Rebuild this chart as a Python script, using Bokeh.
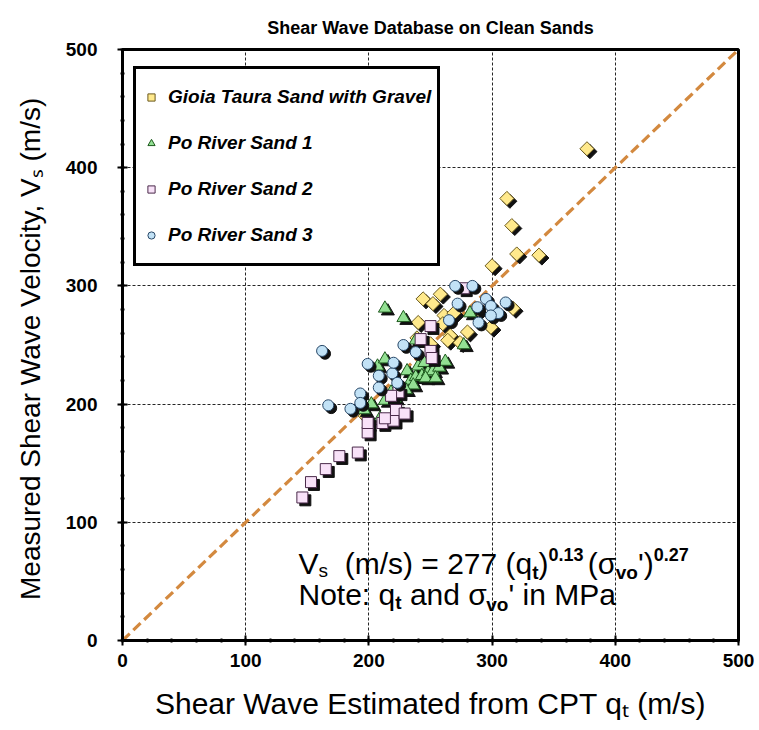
import math
from bokeh.plotting import figure
from bokeh.models import (ColumnDataSource, Range1d, SingleIntervalTicker, Label,
                          Legend, LegendItem)
from bokeh.transform import dodge
from bokeh.embed import file_html
from bokeh.resources import INLINE

# ---------------- data ----------------
title_text = "Shear Wave Database on Clean Sands"
x_title = "Shear Wave Estimated from CPT q\u209c (m/s)"
y_title = "Measured Shear Wave Velocity, V\u209b  (m/s)"
series_names = ["Gioia Taura Sand with Gravel", "Po River Sand 1",
                "Po River Sand 2", "Po River Sand 3"]

gioia_x = [377, 312, 316, 320, 338, 300, 317, 244, 258, 252, 261, 240, 260, 266,
           274, 280, 299, 288, 264, 250, 239, 197, 269]
gioia_y = [416, 374, 351, 327, 326, 317, 281, 289, 293, 285, 275, 269, 268, 258,
           252, 261, 265, 279, 254, 251, 256, 190, 277]

po1_x = [213, 228, 207, 213, 231, 234, 238, 240, 213, 209, 243, 248, 252, 257,
         236, 246, 282, 277, 238, 196, 202, 218, 225, 230, 245, 221, 254, 262]
po1_y = [281, 273, 232, 238, 228, 220, 223, 232, 203, 188, 224, 227, 228, 231,
         216, 222, 277, 250, 254, 195, 200, 210, 215, 212, 235, 205, 222, 236]

po2_x = [146, 153, 165, 176, 191, 199, 199, 211, 220, 224, 222, 213, 218, 250,
         242, 250, 251, 277, 229]
po2_y = [121, 134, 145, 156, 159, 176, 184, 184, 186, 210, 195, 188, 207, 266,
         255, 245, 239, 298, 192]

po3_x = [162, 167, 185, 193, 193, 199, 208, 208, 219, 220, 223, 228, 238, 270,
         284, 272, 295, 299, 311, 305, 288, 299, 289, 265]
po3_y = [245, 199, 196, 209, 201, 234, 224, 214, 226, 235, 218, 250, 244, 300,
         300, 285, 289, 283, 286, 277, 282, 275, 269, 271]

line_x = [0, 500]
line_y = [0, 500]
tick_interval = 100

# ---------------- layout helpers (pixel -> data) ----------------
FL, FR, FT, FB = 122, 738, 49, 640
W, H = 759, 730
sx = (FR - FL) / 500.0
sy = (FB - FT) / 500.0


def dx(px):
    return (px - FL) / sx


def dy(py):
    return (FB - py) / sy


FONT = "Liberation Sans"

p = figure(width=W, height=H, output_backend="svg", toolbar_location=None,
           x_range=Range1d(0, 500), y_range=Range1d(0, 500),
           min_border_left=FL, min_border_right=W - FR,
           min_border_top=FT, min_border_bottom=H - FB,
           background_fill_color="white", border_fill_color="white")

p.title.text = title_text
p.title.align = "center"
p.title.vertical_align = "top"
p.title.text_font = FONT
p.title.text_font_size = "18px"
p.title.text_font_style = "bold"
p.title.text_color = "black"
p.title.standoff = 20

p.outline_line_color = "black"
p.outline_line_width = 3
p.outline_line_alpha = 1

for ax in (p.xaxis[0], p.yaxis[0]):
    ax.ticker = SingleIntervalTicker(interval=tick_interval, num_minor_ticks=5)
    ax.axis_line_width = 3
    ax.axis_line_color = "black"
    ax.major_tick_in = 5
    ax.major_tick_out = 5
    ax.major_tick_line_width = 2
    ax.major_tick_line_color = "black"
    ax.minor_tick_in = 2
    ax.minor_tick_out = 2
    ax.minor_tick_line_width = 2
    ax.minor_tick_line_color = "black"
    ax.major_label_text_font = FONT
    ax.major_label_text_font_style = "bold"
    ax.major_label_text_font_size = "19px"
    ax.major_label_text_color = "black"
    ax.axis_label_text_font = FONT
    ax.axis_label_text_font_style = "normal"
    ax.axis_label_text_color = "black"
p.xaxis[0].axis_label = x_title
p.yaxis[0].axis_label = y_title
p.xaxis[0].axis_label_text_font_size = "30px"
p.yaxis[0].axis_label_text_font_size = "28px"
p.yaxis[0].major_label_standoff = 20
p.xaxis[0].major_label_standoff = 8
p.xaxis[0].axis_label_standoff = 17
p.yaxis[0].axis_label_standoff = 17

for g in (p.xgrid[0], p.ygrid[0]):
    g.grid_line_color = "black"
    g.grid_line_dash = "3 2"
    g.grid_line_width = 1
    g.grid_line_alpha = 0.85

# 1:1 line
p.line(line_x, line_y, line_color="#D3893F", line_width=3.2, line_dash="10 5")

SHX, SHY = 2.4, -2.4
specs = [
    (gioia_x, gioia_y, "square", 10, math.pi / 4, "#FFE98C", "#6B5A1E"),
    (po1_x, po1_y, "triangle", 13, 0, "#93E093", "#1E5A1E"),
    (po2_x, po2_y, "square", 11, 0, "#F8E2F8", "#4A2A4A"),
    (po3_x, po3_y, "circle", 11, 0, "#C2E2F6", "#284868"),
]

items = []
for (xs, ys, marker, size, ang, fill, line), name in zip(specs, series_names):
    src = ColumnDataSource(dict(x=xs, y=ys))
    p.scatter(x=dodge("x", SHX), y=dodge("y", SHY), source=src, marker=marker,
              size=size, angle=ang, fill_color="#111111", line_color="#111111",
              line_width=1)
    r = p.scatter(x="x", y="y", source=src, marker=marker, size=size, angle=ang,
                  fill_color=fill, line_color=line, line_width=1)
    items.append(LegendItem(label=name, renderers=[r]))

legend = Legend(items=items, location=(11, 374))
legend.border_line_color = "black"
legend.border_line_width = 3
legend.border_line_alpha = 1
legend.background_fill_color = "white"
legend.background_fill_alpha = 1
legend.label_text_font = FONT
legend.label_text_font_style = "bold italic"
legend.label_text_font_size = "19px"
legend.label_text_color = "black"
legend.glyph_width = 18
legend.glyph_height = 20
legend.label_height = 44
legend.spacing = 2
legend.padding = 6
legend.label_standoff = 8
legend.margin = 0
p.add_layout(legend, "center")

# ---------------- equation text (laid out with Arial metrics) ----------------
REG = {" ": 278, "(": 333, ")": 333, "m": 833, "/": 278, "s": 500, "=": 584,
       "2": 556, "7": 556, "q": 556, "t": 278, "N": 722, "o": 556, "e": 556,
       ":": 278, "a": 556, "n": 556, "d": 556, "i": 222, "M": 833, "P": 667,
       "V": 667, "v": 500, "'": 191, "\u03c3": 600, "0": 556, "1": 556,
       "3": 556, ".": 278}
BOLD = {"t": 333, "v": 556, "o": 611, "0": 556, ".": 278, "1": 556, "3": 556,
        "2": 556, "7": 556}


def width(text, size, bold):
    tab = BOLD if bold else REG
    return sum(tab.get(c, 556) for c in text) * size / 1000.0


def run(pieces, px0, base):
    px = px0
    for lead, text, size, style, shift in pieces:
        px += lead * 278 * size / 1000.0
        p.add_layout(Label(x=dx(px), y=dy(base + shift), text=text, text_font=FONT,
                           text_font_size=f"{size}px", text_font_style=style,
                           text_color="black", text_align="left",
                           text_baseline="alphabetic"))
        px += width(text, size, style == "bold")


F = 30
run([(0, "V", F, "normal", 0), (0, "s", 19, "normal", 7),
     (2, "(m/s) = 277 (q", F, "normal", 0), (0, "t", 19, "bold", 9),
     (0, ")", F, "normal", 0), (0, "0.13", 18, "bold", -9),
     (0.5, "(\u03c3", F, "normal", 0), (0, "vo", 19, "bold", 9),
     (0, "')", F, "normal", 0), (0, "0.27", 18, "bold", -9)], 298, 563)
run([(0, "Note: q", F, "normal", 0), (0, "t", 19, "bold", 8),
     (1, "and \u03c3", F, "normal", 0), (0, "vo", 19, "bold", 10),
     (0, "' in MPa", F, "normal", 0)], 298, 594)

open("out.html", "w").write(file_html(p, INLINE))
